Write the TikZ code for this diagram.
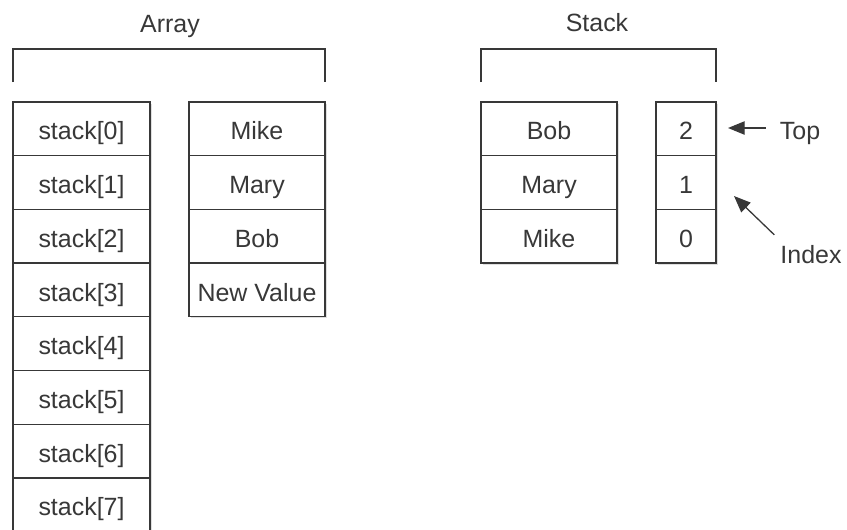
\documentclass[tikz,border=0pt]{standalone}
\usepackage{fontspec}
\setmainfont{Liberation Sans}
\usetikzlibrary{arrows.meta, positioning, shadows}
\definecolor{ink}{HTML}{383838}

\begin{document}
\begin{tikzpicture}[
      x=0.03cm, y=-0.03cm,
      node distance=0pt,
      cell/.style={draw=ink, fill=white, line width=1.1pt, minimum height=1.611cm, inner sep=0pt, outer sep=0pt,
        text=ink, text height=19pt, text depth=0pt, font=\fontsize{21.3}{25}\selectfont,
        drop shadow={shadow xshift=0.06cm, shadow yshift=-0.05cm, fill=black!25}},
      wide/.style={cell, minimum width=4.08cm},
      narrow/.style={cell, minimum width=1.8cm},
      lbl/.style={text=ink, inner sep=2pt, text height=19pt, text depth=0pt, font=\fontsize{21.3}{25}\selectfont},
      bracket/.style={draw=ink, line width=1.1pt},
      arr/.style={-{Triangle[length=0.5cm, width=0.4cm]}, draw=ink, fill=ink, line width=1.1pt}
    ]
    \clip (0,0) rectangle (847,529);

    % array side
    \node[wide, minimum width=4.11cm, anchor=north west] (s0) at (13,102) {stack[0]};
    \foreach \i [remember=\i as \prev (initially 0)] in {1,...,7}
      \node[wide, minimum width=4.11cm, below=of s\prev] (s\i) {stack[\i]};

    \node[wide, anchor=north west] (v0) at (189,102) {Mike};
    \node[wide, below=of v0] (v1) {Mary};
    \node[wide, below=of v1] (v2) {Bob};
    \node[wide, below=of v2] (v3) {New Value};

    \draw[bracket] ([yshift=0.6cm]s0.north west) |- ([yshift=1.59cm]v0.north east) -- ([yshift=0.6cm]v0.north east);
    \node[lbl] (arraylbl) at (170,21) {Array};

    % stack side
    \node[wide, anchor=north west] (k0) at (481,102) {Bob};
    \node[wide, below=of k0] (k1) {Mary};
    \node[wide, below=of k1] (k2) {Mike};

    \node[narrow, anchor=north west] (i2) at (656,102) {2};
    \node[narrow, below=of i2] (i1) {1};
    \node[narrow, below=of i1] (i0) {0};

    \draw[bracket] ([yshift=0.6cm]k0.north west) |- ([yshift=1.59cm]i2.north east) -- ([yshift=0.6cm]i2.north east);
    \node[lbl] (stacklbl) at (597,20) {Stack};

    % pointers
    \node[lbl] (top) at (800,128) {Top};
    \draw[arr, shorten <=0.35cm, shorten >=0.36cm] (top.west) -- (top.west -| i2.east);

    \node[lbl] (idx) at (811,252) {Index};
    \coordinate (idxtip) at (734,196);
    \draw[arr, shorten <=0.15cm] (idx.north west) -- (idxtip);
  \end{tikzpicture}
\end{document}
